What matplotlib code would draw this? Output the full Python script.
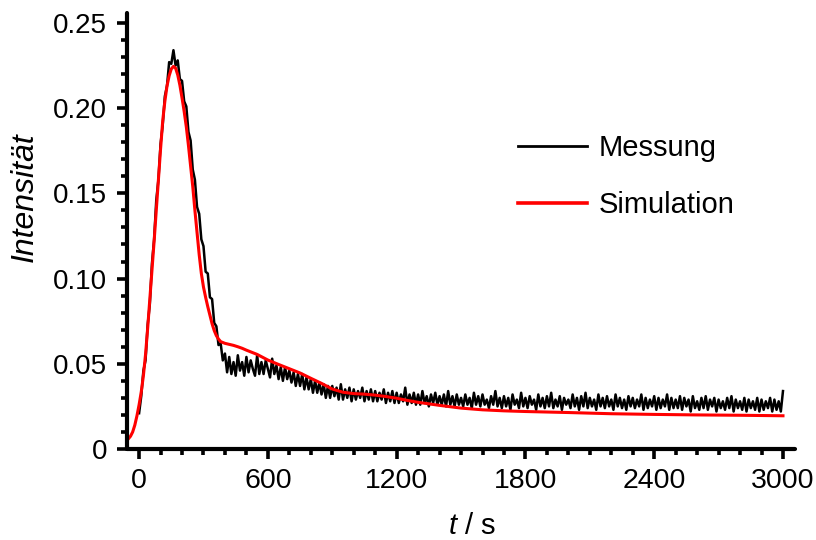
import numpy as np
import matplotlib
matplotlib.use("Agg")
import matplotlib.pyplot as plt
from matplotlib.ticker import MultipleLocator, FuncFormatter

plt.rcParams['font.family'] = ['Liberation Sans', 'DejaVu Sans']
plt.rcParams['mathtext.fontset'] = 'custom'
plt.rcParams['mathtext.it'] = 'Liberation Sans:italic'
plt.rcParams['mathtext.rm'] = 'Liberation Sans'

# Messung: Intensitaet alle 10 s von 0 bis 3000 s
t_mess = np.arange(0, 3001, 10)
i_mess = [
    0.021, 0.031, 0.046, 0.052, 0.073, 0.085, 0.109, 0.123, 0.146, 0.158,
    0.179, 0.190, 0.207, 0.213, 0.227, 0.226, 0.234, 0.225, 0.228, 0.217,
    0.216, 0.204, 0.201, 0.186, 0.181, 0.164, 0.158, 0.142, 0.138, 0.123,
    0.119, 0.104, 0.103, 0.089, 0.088, 0.074, 0.072, 0.061, 0.062, 0.052,
    0.056, 0.045, 0.054, 0.044, 0.051, 0.043, 0.055, 0.046, 0.051, 0.043,
    0.054, 0.045, 0.052, 0.047, 0.043, 0.055, 0.044, 0.051, 0.044, 0.052,
    0.047, 0.042, 0.053, 0.044, 0.049, 0.041, 0.048, 0.040, 0.048, 0.041,
    0.046, 0.039, 0.045, 0.037, 0.044, 0.037, 0.044, 0.035, 0.042, 0.035,
    0.041, 0.033, 0.040, 0.033, 0.039, 0.032, 0.038, 0.030, 0.037, 0.030,
    0.037, 0.031, 0.036, 0.029, 0.038, 0.029, 0.035, 0.030, 0.036, 0.028,
    0.035, 0.029, 0.034, 0.030, 0.036, 0.028, 0.034, 0.029, 0.035, 0.028,
    0.034, 0.028, 0.033, 0.029, 0.035, 0.027, 0.033, 0.028, 0.034, 0.027,
    0.033, 0.027, 0.032, 0.028, 0.036, 0.026, 0.032, 0.027, 0.033, 0.026,
    0.032, 0.026, 0.034, 0.027, 0.031, 0.025, 0.032, 0.027, 0.033, 0.026,
    0.031, 0.026, 0.032, 0.025, 0.034, 0.026, 0.031, 0.025, 0.032, 0.026,
    0.030, 0.025, 0.032, 0.026, 0.030, 0.024, 0.033, 0.026, 0.031, 0.025,
    0.032, 0.026, 0.029, 0.024, 0.031, 0.026, 0.034, 0.025, 0.030, 0.024,
    0.031, 0.025, 0.030, 0.023, 0.032, 0.026, 0.029, 0.024, 0.033, 0.025,
    0.030, 0.024, 0.031, 0.026, 0.029, 0.023, 0.032, 0.025, 0.030, 0.024,
    0.031, 0.025, 0.033, 0.024, 0.029, 0.025, 0.031, 0.023, 0.030, 0.026,
    0.029, 0.024, 0.032, 0.025, 0.030, 0.023, 0.031, 0.025, 0.033, 0.024,
    0.030, 0.025, 0.029, 0.023, 0.032, 0.025, 0.030, 0.024, 0.031, 0.025,
    0.029, 0.023, 0.032, 0.025, 0.030, 0.024, 0.029, 0.023, 0.031, 0.025,
    0.030, 0.024, 0.029, 0.025, 0.032, 0.023, 0.030, 0.024, 0.029, 0.025,
    0.031, 0.023, 0.030, 0.024, 0.029, 0.025, 0.032, 0.023, 0.030, 0.024,
    0.029, 0.024, 0.031, 0.023, 0.030, 0.025, 0.029, 0.022, 0.031, 0.024,
    0.028, 0.023, 0.030, 0.024, 0.031, 0.023, 0.029, 0.025, 0.030, 0.022,
    0.029, 0.024, 0.028, 0.023, 0.030, 0.024, 0.031, 0.022, 0.029, 0.024,
    0.028, 0.023, 0.030, 0.022, 0.029, 0.024, 0.028, 0.023, 0.030, 0.022,
    0.029, 0.023, 0.028, 0.024, 0.030, 0.022, 0.029, 0.023, 0.028, 0.022,
    0.034,
]

# Simulation
t_sim = [-50, -40, -30, -20, -10, 0, 10, 20, 30, 40, 50, 60, 70, 80, 90,
         100, 110, 120, 130, 140, 150, 160, 170, 180, 190, 200, 210, 220,
         230, 240, 250, 260, 270, 280, 290, 300, 310, 320, 330, 340, 350,
         360, 370, 380, 390, 400, 420, 440, 460, 480, 500, 550, 600, 650,
         700, 750, 800, 850, 900, 950, 1000, 1050, 1100, 1150, 1200, 1250,
         1300, 1400, 1500, 1600, 1700, 1800, 2000, 2200, 2400, 2600, 2800, 3000]
i_sim = [0.0060, 0.0075, 0.0100, 0.0140, 0.0195, 0.0260, 0.0335, 0.0430,
         0.0555, 0.0710, 0.0880, 0.1050, 0.1220, 0.1400, 0.1580, 0.1760,
         0.1925, 0.2040, 0.2130, 0.2190, 0.2230, 0.2245, 0.2235, 0.2195,
         0.2135, 0.2060, 0.1980, 0.1890, 0.1780, 0.1660, 0.1540, 0.1400,
         0.1270, 0.1140, 0.1030, 0.0950, 0.0890, 0.0835, 0.0785, 0.0735,
         0.0695, 0.0665, 0.0645, 0.0630, 0.0625, 0.0620, 0.0614, 0.0608,
         0.0600, 0.0591, 0.0580, 0.0555, 0.0522, 0.0496, 0.0471, 0.0446,
         0.0415, 0.0385, 0.0352, 0.0333, 0.0325, 0.0322, 0.0316, 0.0308,
         0.0298, 0.0285, 0.0274, 0.0256, 0.0240, 0.0230, 0.0224, 0.0220,
         0.0214, 0.0207, 0.0203, 0.0200, 0.0198, 0.0195]

x_ticks = [0, 600, 1200, 1800, 2400, 3000]
y_ticks = [0, 0.05, 0.10, 0.15, 0.20, 0.25]

fig = plt.figure(figsize=(8.16, 5.4), dpi=100)
ax = fig.add_axes([0.156, 0.1685, 0.818, 0.808])

ax.plot(t_mess, i_mess, color='black', lw=1.8, label='Messung')
ax.plot(t_sim, i_sim, color='#ff0000', lw=2.2, label='Simulation')

ax.set_xlim(-55, 3055)
ax.set_ylim(0, 0.256)

for side in ['top', 'right']:
    ax.spines[side].set_visible(False)
for side in ['left', 'bottom']:
    ax.spines[side].set_linewidth(3.0)
    ax.spines[side].set_capstyle('round')

ax.set_xticks(x_ticks)
ax.set_yticks(y_ticks)
ax.xaxis.set_minor_locator(MultipleLocator(100))
ax.yaxis.set_minor_locator(MultipleLocator(0.01))
ax.yaxis.set_major_formatter(FuncFormatter(lambda v, p: '0' if v == 0 else '%.2f' % v))

ax.tick_params(which='major', direction='out', length=7.5, width=2.6)
ax.tick_params(which='minor', direction='out', length=4.5, width=2.6)
ax.tick_params(axis='x', which='major', labelsize=20.5, pad=6)
ax.tick_params(axis='y', which='major', labelsize=20, pad=7)

fig.text(25 / 816, 1 - 197 / 540, 'Intensität', rotation=90, style='italic',
         fontsize=23, ha='center', va='center')
fig.text(472 / 816, 1 - 526 / 540, r'$\mathit{t}$ / s', fontsize=21,
         ha='center', va='center')

leg = ax.legend(loc='center left', bbox_to_anchor=(0.635, 1 - 176.5 / 540),
                bbox_transform=fig.transFigure, frameon=False, fontsize=21,
                handlelength=2.35, handletextpad=0.4, labelspacing=1.0,
                borderpad=0, borderaxespad=0)
leg.get_lines()[0].set_linewidth(2.0)
leg.get_lines()[1].set_linewidth(2.6)

fig.savefig('out.png', dpi=100)
